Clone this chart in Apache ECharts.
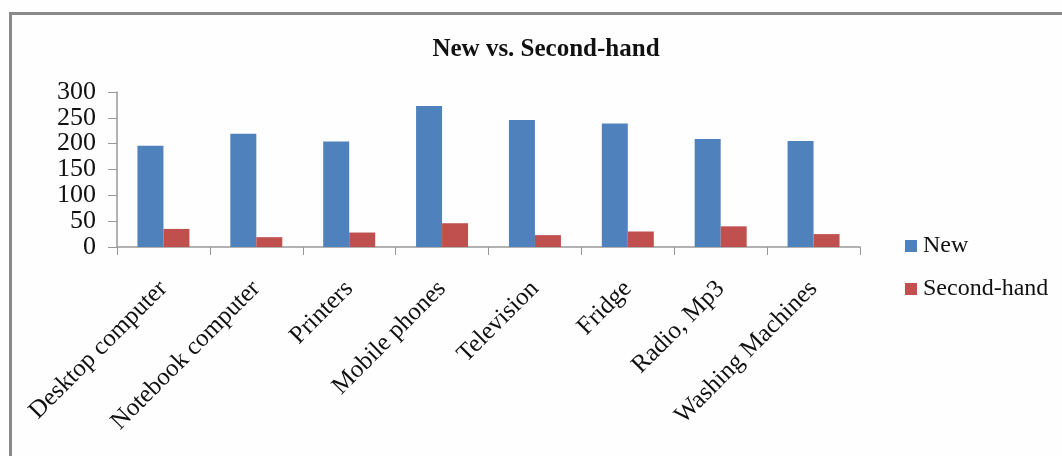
<!DOCTYPE html>
<html>
<head>
<meta charset="utf-8">
<script src="https://cdn.jsdelivr.net/npm/echarts@6/dist/echarts.min.js"></script>
<style>html,body{margin:0;padding:0;background:#fff}#c{width:1062px;height:456px}</style>
</head>
<body>
<div id="c"></div>
<script>
var categories = ['Desktop computer','Notebook computer','Printers','Mobile phones','Television','Fridge','Radio, Mp3','Washing Machines'];
var newValues = [196, 219, 204, 273, 246, 239, 209, 205];
var secondHandValues = [35, 19, 28, 46, 23, 30, 40, 25];
var seriesNames = ['New', 'Second-hand'];
var titleText = 'New vs. Second-hand';

var font = 'Liberation Serif';
var chart = echarts.init(document.getElementById('c'));
chart.setOption({
  backgroundColor: '#fefefe',
  animation: false,
  title: {
    text: titleText, left: 541, top: 32, textAlign: 'center',
    textStyle: {fontFamily: font, fontWeight: 'bold', fontSize: 25, color: '#111'}
  },
  graphic: [{
    type: 'rect', shape: {x: 10.5, y: 13.5, width: 1100, height: 500},
    style: {fill: null, stroke: '#8a8a8a', lineWidth: 3}, silent: true
  }],
  legend: {
    orient: 'vertical', left: 900, top: 229, itemWidth: 12, itemHeight: 12, itemGap: 19,
    icon: 'rect', data: seriesNames,
    textStyle: {fontFamily: font, fontSize: 24, color: '#111', padding: [0,0,0,1]}
  },
  grid: {left: 117, right: 202, top: 92, bottom: 209, containLabel: false},
  xAxis: {
    type: 'category', data: categories,
    axisLine: {lineStyle: {color: '#999', width: 1.5}},
    axisTick: {show: true, length: 8, alignWithLabel: false, lineStyle: {color: '#999'}},
    axisLabel: {rotate: 45, margin: 38, interval: 0, fontFamily: font, fontSize: 25, color: '#111'}
  },
  yAxis: {
    type: 'value', min: 0, max: 300, interval: 50,
    axisLine: {show: true, lineStyle: {color: '#999', width: 1.5}},
    axisTick: {show: true, length: 9, lineStyle: {color: '#999'}},
    splitLine: {show: false},
    axisLabel: {margin: 21, fontFamily: font, fontSize: 26, color: '#111'}
  },
  series: [
    {name: seriesNames[0], type: 'bar', data: newValues, barWidth: 26, barGap: '0%',
     itemStyle: {color: '#4F81BD'}},
    {name: seriesNames[1], type: 'bar', data: secondHandValues, barWidth: 26,
     itemStyle: {color: '#C0504D'}}
  ]
});
</script>
</body>
</html>
